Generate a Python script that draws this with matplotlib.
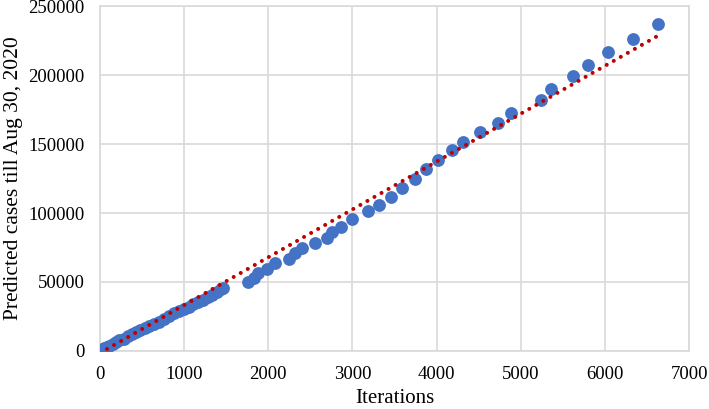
import numpy as np
import matplotlib
matplotlib.use("Agg")
import matplotlib.pyplot as plt

# predicted cases vs iterations
iterations = [0, 20, 50, 80, 110, 150, 190, 230, 280, 330, 380, 430, 480, 530,
              580, 640, 700, 760, 820, 880, 940, 1000, 1060, 1110, 1170, 1220,
              1280, 1330, 1390, 1440, 1462,
              1759, 1830, 1882, 1990, 2080, 2250, 2318, 2397, 2560, 2700, 2760,
              2864, 3000, 3189, 3316, 3459, 3586, 3748, 3871, 4021, 4180, 4318,
              4516, 4734, 4885, 5238, 5360, 5622, 5804, 6030, 6331, 6628]
cases = [0, 800, 1800, 2900, 3900, 5200, 6500, 7600, 9000, 10500, 12000, 13500,
         15000, 16500, 18200, 19500, 21200, 23500, 25600, 27500, 29000, 30500,
         32200, 33800, 35400, 37000, 38900, 40600, 42800, 44800, 45700,
         50000, 53000, 56300, 59700, 63500, 66500, 71000, 74400, 78000, 82000,
         86000, 89900, 95600, 101700, 105800, 111800, 117900, 124600, 131900,
         138400, 145600, 151700, 158400, 165000, 172700, 181900, 190100, 199300,
         207500, 216700, 226300, 236700]

# linear trendline
trend_slope = 34.7
trend_intercept = -1500

x_ticks = [0, 1000, 2000, 3000, 4000, 5000, 6000, 7000]
y_ticks = [0, 50000, 100000, 150000, 200000, 250000]

plt.rcParams['font.family'] = ['Liberation Serif', 'DejaVu Serif']

fig, ax = plt.subplots(figsize=(7.09, 4.09), dpi=100)
fig.subplots_adjust(left=0.141, right=0.972, top=0.985, bottom=0.142)

x = np.array(iterations, dtype=float)
y = np.array(cases, dtype=float)

ax.plot(x, y, 'o', color='#4472C4', markersize=8.2, zorder=3)

xt = np.array([x.min(), x.max()])
ax.plot(xt, trend_slope * xt + trend_intercept, color='#C00000',
        linestyle=(0, (0.01, 2.0)), linewidth=2.9,
        dash_capstyle='round', zorder=4)

ax.set_xlim(0, 7000)
ax.set_ylim(0, 250000)
ax.set_xticks(x_ticks)
ax.set_yticks(y_ticks)
ax.tick_params(length=0, labelsize=13.5, pad=11)
ax.grid(True, color='#D9D9D9', linewidth=1.2)
ax.set_axisbelow(True)
for s in ax.spines.values():
    s.set_color('#D9D9D9')
    s.set_linewidth(1.2)

ax.set_xlabel('Iterations', fontsize=15, labelpad=4)
ax.set_ylabel('Predicted cases till Aug 30, 2020', fontsize=15.5, labelpad=4)

plt.savefig('out.png', dpi=100)
